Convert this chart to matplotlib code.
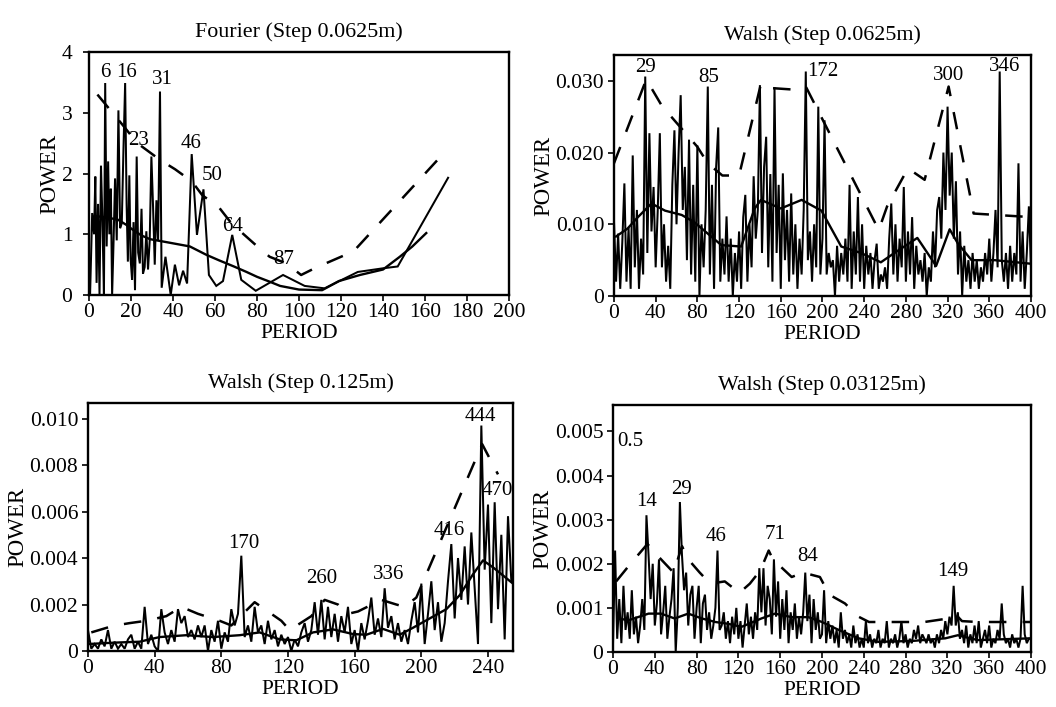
import numpy as np
import matplotlib
matplotlib.use("Agg")
import matplotlib.pyplot as plt
from matplotlib.ticker import FixedLocator, FixedFormatter

plt.rcParams['font.family'] = ['Liberation Serif', 'DejaVu Serif']

# ---------------- Fourier spectrum (step 0.0625 m) ----------------
fourier_period = [0.5, 1.5, 2.4, 3.0, 3.6, 4.3, 5.0, 5.7, 6.4, 7.1, 7.7, 8.4, 9.1, 9.7,
                  10.4, 11.0, 11.7, 12.4, 13.2, 14.0, 14.8, 15.6, 16.4, 17.2, 17.9, 18.5,
                  19.2, 19.8, 20.5, 21.2, 21.9, 22.7, 23.4, 24.2, 25.0, 25.7, 26.5, 27.3,
                  28.1, 28.9, 29.7, 30.5, 31.3, 32.1, 32.9, 33.8, 34.6, 36.4, 38.9, 40.9,
                  42.9, 44.8, 46.7, 48.9, 51.4, 54.5, 57.1, 60.6, 63.8, 68.2, 72.5, 79.4,
                  92.4, 102.7, 112.2, 128.0, 140.0, 147.0, 171.0]
fourier_power = [0.0, 1.35, 1.0, 1.95, 0.2, 1.5, 0.0, 2.13, 1.2, 0.0, 3.49, 0.8, 2.2, 1.0,
                 1.75, 0.0, 0.9, 1.92, 0.9, 3.04, 1.1, 1.18, 2.4, 3.49, 1.5, 0.55,
                 1.97, 0.6, 0.25, 1.2, 0.08, 2.28, 0.7, 0.52, 1.42, 0.35, 0.46, 1.05,
                 0.42, 0.9, 2.28, 1.45, 0.5, 1.56, 0.9, 3.35, 0.12, 0.63, 0.0, 0.5,
                 0.16, 0.4, 0.19, 2.32, 0.99, 1.74, 0.33, 0.15, 0.23, 0.99, 0.25, 0.07,
                 0.33, 0.15, 0.11, 0.38, 0.44, 0.47, 1.93]
fourier_bg_period = [2.7, 8, 13.8, 18, 21, 25, 29, 37, 48, 56, 62, 69, 75, 80, 86, 91,
                     100, 111, 119, 129, 140, 148, 154, 160.6]
fourier_bg_power = [1.3, 1.28, 1.24, 1.15, 1.07, 0.98, 0.92, 0.87, 0.8, 0.66, 0.57, 0.47,
                    0.38, 0.3, 0.22, 0.15, 0.09, 0.08, 0.23, 0.33, 0.42, 0.63, 0.8, 1.02]
fourier_cl_period = [4, 10, 16, 23, 34, 41, 49, 54, 61.5, 68.5, 73, 79.5, 86, 94, 101,
                     108, 126, 168]
fourier_cl_power = [3.3, 3.05, 2.8, 2.5, 2.22, 2.07, 1.87, 1.64, 1.46, 1.15, 1.02, 0.82,
                    0.63, 0.52, 0.33, 0.45, 0.72, 2.3]
fourier_labels = ["6", "16", "31", "23", "46", "50", "64", "87"]
fourier_label_x = [7.6, 18, 34.8, 23.5, 48.5, 58.7, 68.2, 92.5]
fourier_label_y = [3.67, 3.67, 3.54, 2.55, 2.5, 1.96, 1.12, 0.58]

# ---------------- Walsh spectrum (step 0.0625 m), periods 0..400 every 2 ----------------
walsh_a_step = 2
walsh_a_power = [
    0.0105, 0.002, 0.0087, 0.001, 0.0075, 0.0157, 0.002, 0.0095, 0.001, 0.0196,
    0.004, 0.012, 0.001, 0.008, 0.003, 0.0306, 0.006, 0.0227, 0.009, 0.0152,
    0.004, 0.012, 0.0227, 0.004, 0.010, 0.002, 0.007, 0.001, 0.0155, 0.0231,
    0.010, 0.020, 0.028, 0.012, 0.018, 0.005, 0.0218, 0.003, 0.0155, 0.002,
    0.021, 0.0, 0.010, 0.004, 0.012, 0.0292, 0.003, 0.0155, 0.001, 0.018,
    0.0235, 0.002, 0.008, 0.003, 0.0111, 0.002, 0.008, 0.0, 0.006, 0.002,
    0.009, 0.001, 0.011, 0.0141, 0.002, 0.010, 0.004, 0.0167, 0.008, 0.012,
    0.0294, 0.006, 0.018, 0.0222, 0.004, 0.017, 0.002, 0.0291, 0.006, 0.0155,
    0.001, 0.0171, 0.005, 0.012, 0.002, 0.0143, 0.003, 0.010, 0.001, 0.008,
    0.003, 0.012, 0.0313, 0.005, 0.009, 0.002, 0.010, 0.004, 0.0264, 0.003,
    0.008, 0.0245, 0.003, 0.006, 0.004, 0.005, 0.0, 0.007, 0.002, 0.006,
    0.003, 0.008, 0.002, 0.0155, 0.001, 0.009, 0.003, 0.0138, 0.002, 0.010,
    0.001, 0.007, 0.003, 0.006, 0.001, 0.005, 0.0073, 0.001, 0.003, 0.002,
    0.004, 0.001, 0.008, 0.0129, 0.003, 0.010, 0.002, 0.008, 0.004, 0.0152,
    0.002, 0.009, 0.003, 0.011, 0.001, 0.007, 0.003, 0.005, 0.002, 0.006,
    0.0, 0.004, 0.002, 0.009, 0.004, 0.012, 0.0138, 0.008, 0.020, 0.012,
    0.0264, 0.014, 0.020, 0.008, 0.016, 0.003, 0.009, 0.0, 0.007, 0.002,
    0.005, 0.001, 0.006, 0.002, 0.005, 0.001, 0.004, 0.002, 0.006, 0.003,
    0.008, 0.002, 0.006, 0.012, 0.004, 0.0313, 0.005, 0.002, 0.006, 0.001,
    0.007, 0.002, 0.006, 0.003, 0.0185, 0.002, 0.009, 0.001, 0.006, 0.0125,
    0.004]
walsh_a_bg_period = [2, 13, 23, 36, 49, 65, 77, 90, 103, 122, 135, 141, 160, 180, 199,
                     218, 237, 256, 269, 291, 309, 322, 330, 343, 365, 400]
walsh_a_bg_power = [0.0083, 0.0094, 0.011, 0.0129, 0.0119, 0.0113, 0.0103, 0.0087, 0.0071,
                    0.0069, 0.0122, 0.0134, 0.0122, 0.0134, 0.0119, 0.0069, 0.006, 0.0047,
                    0.006, 0.0081, 0.0042, 0.0093, 0.0073, 0.005, 0.005, 0.0045]
walsh_a_cl_period = [0, 31, 46, 80, 90, 104, 120, 141, 150, 170, 184, 254, 262, 282, 298,
                     321, 345, 400]
walsh_a_cl_power = [0.0185, 0.0302, 0.0265, 0.0208, 0.0185, 0.0168, 0.0168, 0.0296, 0.029,
                    0.0288, 0.0292, 0.0092, 0.0125, 0.0178, 0.0162, 0.0292, 0.0115, 0.011]
walsh_a_labels = ["29", "85", "172", "300", "346"]
walsh_a_label_x = [30, 91, 200.6, 321.4, 374.5]
walsh_a_label_y = [0.0318, 0.0305, 0.0313, 0.0307, 0.0320]

# ---------------- Walsh spectrum (step 0.125 m), periods 0..254 every 2 ----------------
walsh_b_step = 2
walsh_b_power = [
    0.0009, 0.0001, 0.0003, 0.0001, 0.0005, 0.0002, 0.0009, 0.0001, 0.0004, 0.0001,
    0.0003, 0.0001, 0.0005, 0.0007, 0.0001, 0.0004, 0.0001, 0.0019, 0.0003, 0.0007,
    0.0002, 0.0, 0.0018, 0.0008, 0.0003, 0.0009, 0.0004, 0.0018, 0.0012, 0.0015,
    0.0006, 0.0009, 0.0005, 0.0011, 0.0006, 0.0011, 0.0, 0.0009, 0.0004, 0.0013,
    0.0001, 0.0008, 0.0004, 0.0018, 0.0011, 0.0016, 0.0041, 0.0006, 0.0011, 0.0004,
    0.0019, 0.0008, 0.0011, 0.0003, 0.0013, 0.0005, 0.0009, 0.0002, 0.0007, 0.0003,
    0.0006, 0.0, 0.0005, 0.0002, 0.0008, 0.0012, 0.0004, 0.0009, 0.0021, 0.0007,
    0.0022, 0.0005, 0.0019, 0.0006, 0.0016, 0.0004, 0.0015, 0.0008, 0.0019, 0.0003,
    0.0009, 0.0, 0.0012, 0.0005, 0.0013, 0.0023, 0.0007, 0.0014, 0.0006, 0.0027,
    0.0010, 0.0015, 0.0005, 0.0012, 0.0004, 0.0009, 0.0003, 0.0013, 0.0021, 0.0008,
    0.0029, 0.0003, 0.0016, 0.0030, 0.0009, 0.0021, 0.0004, 0.0012, 0.0030, 0.0046,
    0.0014, 0.0040, 0.0022, 0.0045, 0.0020, 0.0051, 0.0027, 0.0003, 0.0097, 0.0035,
    0.0063, 0.0012, 0.0064, 0.0018, 0.0050, 0.0005, 0.0058, 0.0030]
walsh_b_bg_period = [0, 16, 31, 43, 59, 75, 91, 103, 115, 125, 135, 147, 159, 167, 177,
                     187, 195, 205, 215, 223, 231, 237, 243, 255]
walsh_b_bg_power = [0.0003, 0.00036, 0.0004, 0.0006, 0.00068, 0.0006, 0.00068, 0.0008,
                    0.0005, 0.00046, 0.0008, 0.00093, 0.00073, 0.0007, 0.00095, 0.0007,
                    0.001, 0.0014, 0.0018, 0.0024, 0.0033, 0.0039, 0.0036, 0.0029]
walsh_b_cl_period = [2, 15, 25, 35, 47, 56, 66, 79, 86, 100, 116, 121, 134, 142, 150, 156,
                     162, 176, 185, 190, 197, 236.5, 246]
walsh_b_cl_power = [0.0008, 0.00108, 0.0012, 0.0013, 0.0015, 0.0019, 0.0016, 0.0013,
                    0.0011, 0.0021, 0.0013, 0.0009, 0.0015, 0.0022, 0.002, 0.0016, 0.0017,
                    0.0022, 0.002, 0.0019, 0.0023, 0.0089, 0.0076]
walsh_b_labels = ["170", "260", "336", "416", "444", "470"]
walsh_b_label_x = [93.2, 140, 180.6, 217, 235.2, 245.6]
walsh_b_label_y = [0.00463, 0.0031, 0.0033, 0.0052, 0.0101, 0.0069]

# ---------------- Walsh spectrum (step 0.03125 m), periods 0..400 every 2 ----------------
walsh_c_step = 2
walsh_c_power = [
    0.0002, 0.0023, 0.0003, 0.0012, 0.0002, 0.0015, 0.0005, 0.0009, 0.0003, 0.0014,
    0.0004, 0.0008, 0.0002, 0.0006, 0.0012, 0.0005, 0.0031, 0.0022, 0.0012, 0.0020,
    0.0006, 0.0011, 0.0021, 0.0004, 0.0009, 0.0015, 0.0003, 0.0008, 0.0012, 0.0019,
    0.0, 0.0010, 0.0034, 0.0022, 0.0014, 0.0018, 0.0006, 0.0013, 0.0015, 0.0003,
    0.0010, 0.0015, 0.0002, 0.0011, 0.0013, 0.0005, 0.0009, 0.0003, 0.0006, 0.0010,
    0.0023, 0.0005, 0.0006, 0.0009, 0.0003, 0.0007, 0.0002, 0.0008, 0.0004, 0.0010,
    0.0003, 0.0007, 0.0001, 0.0006, 0.0011, 0.0004, 0.0008, 0.0003, 0.0009, 0.0005,
    0.0019, 0.0009, 0.0019, 0.0006, 0.0015, 0.0012, 0.0004, 0.0021, 0.0008, 0.0016,
    0.0003, 0.0012, 0.0005, 0.0014, 0.0002, 0.0009, 0.0005, 0.0011, 0.0003, 0.0008,
    0.0004, 0.0009, 0.0018, 0.0007, 0.0013, 0.0002, 0.0012, 0.0005, 0.0009, 0.0003,
    0.0004, 0.0014, 0.0002, 0.0007, 0.0003, 0.0006, 0.0002, 0.0005, 0.0001, 0.0009,
    0.0003, 0.0005, 0.0002, 0.0004, 0.0001, 0.0006, 0.0002, 0.0004, 0.0001, 0.0003,
    0.0001, 0.0007, 0.0002, 0.0004, 0.0001, 0.0003, 0.0002, 0.0005, 0.0001, 0.0003,
    0.0002, 0.0007, 0.0001, 0.0003, 0.0002, 0.0004, 0.0001, 0.0003, 0.0007, 0.0002,
    0.0004, 0.0001, 0.0003, 0.0002, 0.0005, 0.0003, 0.0006, 0.0002, 0.0004, 0.0003,
    0.0002, 0.0004, 0.0002, 0.0003, 0.0001, 0.0004, 0.0002, 0.0005, 0.0003, 0.0007,
    0.0004, 0.0008, 0.0006, 0.0015, 0.0006, 0.0009, 0.0003, 0.0005, 0.0002, 0.0006,
    0.0001, 0.0004, 0.0002, 0.0006, 0.0002, 0.0007, 0.0001, 0.0003, 0.0005, 0.0002,
    0.0006, 0.0001, 0.0003, 0.0002, 0.0005, 0.0003, 0.0011, 0.0004, 0.0002, 0.0003,
    0.0001, 0.0004, 0.0002, 0.0003, 0.0001, 0.0003, 0.0015, 0.0004, 0.0002, 0.0003,
    0.0003]
walsh_c_bg_period = [5, 15, 34, 46, 59, 72, 85, 98, 110, 123, 142, 155, 171, 187, 200,
                     216, 235, 254, 286, 318, 330, 349, 400]
walsh_c_bg_power = [0.00076, 0.00072, 0.00087, 0.00087, 0.00076, 0.00087, 0.00076, 0.00068,
                    0.00064, 0.00057, 0.00076, 0.00087, 0.00079, 0.00079, 0.00068, 0.0005,
                    0.00031, 0.00023, 0.00025, 0.00031, 0.00038, 0.00027, 0.00031]
walsh_c_cl_period = [3, 15, 33, 38, 50, 58, 62, 66, 72, 83, 93, 107, 121, 131, 141, 149,
                     153, 171, 182, 198, 207, 222, 235, 245, 262, 282, 298, 318, 328, 334,
                     349, 400]
walsh_c_cl_power = [0.0016, 0.00195, 0.00245, 0.0023, 0.002, 0.0018, 0.0021, 0.0024,
                    0.0021, 0.0018, 0.00155, 0.0016, 0.00134, 0.00155, 0.00185, 0.0023,
                    0.0021, 0.0017, 0.0018, 0.0017, 0.0013, 0.0011, 0.0008, 0.00068,
                    0.00068, 0.00068, 0.00068, 0.00075, 0.00085, 0.0007, 0.00068, 0.00068]
walsh_c_labels = ["0.5", "14", "29", "46", "71", "84", "149"]
walsh_c_label_x = [16.9, 31.9, 65.3, 98.9, 154.7, 186, 325.4]
walsh_c_label_y = [0.00477, 0.00342, 0.00368, 0.00262, 0.00266, 0.00216, 0.00182]


def periods(step, values):
    return np.arange(len(values)) * step


TICK_FS = 15.5
XLABEL_FS = 15.5
YLABEL_FS = 16.5
TITLE_FS = 15.8
NOTE_FS = 15
DASH = (0, (7.0, 6.5))

fig = plt.figure(figsize=(10.56, 7.07), dpi=100)

panels = [
    dict(rect=[0.0843, 0.5827, 0.3977, 0.3437], title="Fourier (Step 0.0625m)",
         raw=(fourier_period, fourier_power), bg=(fourier_bg_period, fourier_bg_power),
         cl=(fourier_cl_period, fourier_cl_power),
         notes=(fourier_labels, fourier_label_x, fourier_label_y),
         xlim=(0, 200), xticks=list(range(0, 201, 20)), ylim=(0, 4),
         yticks=[0, 1, 2, 3, 4], ylabels=["0", "1", "2", "3", "4"], ypad=8),
    dict(rect=[0.5814, 0.5813, 0.3949, 0.3409], title="Walsh (Step 0.0625m)",
         raw=(periods(walsh_a_step, walsh_a_power), walsh_a_power),
         bg=(walsh_a_bg_period, walsh_a_bg_power), cl=(walsh_a_cl_period, walsh_a_cl_power),
         notes=(walsh_a_labels, walsh_a_label_x, walsh_a_label_y),
         xlim=(0, 400), xticks=list(range(0, 401, 40)), ylim=(0, 0.0336),
         yticks=[0, 0.01, 0.02, 0.03], ylabels=["0", "0.010", "0.020", "0.030"], ypad=3),
    dict(rect=[0.0833, 0.0792, 0.4025, 0.3508], title="Walsh (Step 0.125m)",
         raw=(periods(walsh_b_step, walsh_b_power), walsh_b_power),
         bg=(walsh_b_bg_period, walsh_b_bg_power), cl=(walsh_b_cl_period, walsh_b_cl_power),
         notes=(walsh_b_labels, walsh_b_label_x, walsh_b_label_y),
         xlim=(0, 255), xticks=list(range(0, 241, 40)), ylim=(0, 0.01067),
         yticks=[0, 0.002, 0.004, 0.006, 0.008, 0.010],
         ylabels=["0", "0.002", "0.004", "0.006", "0.008", "0.010"], ypad=3),
    dict(rect=[0.5805, 0.0778, 0.3958, 0.3494], title="Walsh (Step 0.03125m)",
         raw=(periods(walsh_c_step, walsh_c_power), walsh_c_power),
         bg=(walsh_c_bg_period, walsh_c_bg_power), cl=(walsh_c_cl_period, walsh_c_cl_power),
         notes=(walsh_c_labels, walsh_c_label_x, walsh_c_label_y),
         xlim=(0, 400), xticks=list(range(0, 401, 40)), ylim=(0, 0.0056),
         yticks=[0, 0.001, 0.002, 0.003, 0.004, 0.005],
         ylabels=["0", "0.001", "0.002", "0.003", "0.004", "0.005"], ypad=3),
]

for p in panels:
    ax = fig.add_axes(p["rect"])
    ax.plot(*p["raw"], color="black", lw=1.45, solid_joinstyle="miter")
    ax.plot(*p["bg"], color="black", lw=1.7)
    ax.plot(*p["cl"], color="black", lw=1.8, linestyle=DASH)
    labels, lx, ly = p["notes"]
    for s, x, y in zip(labels, lx, ly):
        ax.text(x, y, s, ha="center", va="center", fontsize=NOTE_FS)
    ax.set_xlim(*p["xlim"])
    ax.set_ylim(*p["ylim"])
    ax.xaxis.set_major_locator(FixedLocator(p["xticks"]))
    ax.yaxis.set_major_locator(FixedLocator(p["yticks"]))
    ax.yaxis.set_major_formatter(FixedFormatter(p["ylabels"]))
    ax.tick_params(direction="out", length=4, width=1.2, labelsize=TICK_FS)
    ax.tick_params(axis="x", pad=2)
    ax.tick_params(axis="y", pad=p["ypad"])
    for sp in ax.spines.values():
        sp.set_linewidth(1.7)
    ax.set_title(p["title"], fontsize=TITLE_FS, pad=11)
    ax.set_xlabel("PERIOD", fontsize=XLABEL_FS, labelpad=1)
    ax.set_ylabel("POWER", fontsize=YLABEL_FS, labelpad=1)

fig.savefig("out.png", dpi=100)
